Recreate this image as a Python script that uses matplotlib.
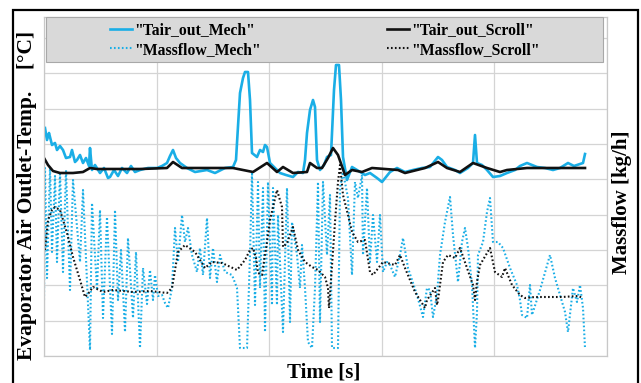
import matplotlib
matplotlib.use("Agg")
import matplotlib.pyplot as plt
import matplotlib.patches as patches
from matplotlib.ticker import MultipleLocator

# time [s] and values
t_tair_scroll = [0, 40, 90, 160, 290, 390, 460, 530, 960, 1230, 1290, 1380, 1890, 2090, 2230, 2330,
                 2390, 2490, 2630, 2660, 2730, 2780, 2840, 2890, 2940, 3010, 3080, 3180, 3280, 3540,
                 3610, 3810, 3940, 4030, 4160, 4290, 4430, 4560, 4630, 4830, 5410]
tair_scroll = [19.8, 19.1, 18.5, 18.3, 18.3, 18.4, 18.8, 18.7, 18.7, 18.8, 19.4, 18.8, 18.8, 18.4, 19.3, 18.4,
               18.9, 18.3, 18.4, 19.3, 18.8, 18.8, 19.8, 20.8, 20.1, 18.1, 18.6, 18.4, 18.8, 18.6,
               18.3, 18.8, 19.4, 18.8, 18.4, 19.3, 18.8, 18.4, 18.6, 18.8, 18.8]

t_tair_mech = [10, 30, 50, 60, 80, 110, 130, 160, 190, 220, 260, 280, 310, 330, 360, 390, 420, 450, 460,
               480, 510, 560, 600, 640, 660, 700, 740, 780, 830, 870, 910, 960, 1040, 1130, 1180, 1230,
               1260, 1290, 1320, 1360, 1430, 1510, 1630, 1710, 1810, 1890, 1920, 1930, 1960, 1990, 2010,
               2040, 2060, 2080, 2130, 2160, 2190, 2210, 2230, 2260, 2310, 2360, 2420, 2490, 2540, 2590,
               2610, 2630, 2660, 2690, 2710, 2730, 2760, 2800, 2830, 2870, 2900, 2920, 2950, 2970, 2990,
               3030, 3080, 3130, 3210, 3260, 3330, 3380, 3460, 3530, 3610, 3690, 3780, 3860, 3900, 3940,
               3980, 4030, 4110, 4160, 4240, 4290, 4310, 4330, 4380, 4430, 4490, 4560, 4630, 4710, 4760,
               4830, 4930, 5010, 5090, 5160, 5240, 5300, 5330, 5390, 5410]
tair_mech = [22.8, 21.6, 22.3, 21.9, 21.1, 21.3, 20.6, 21.0, 20.6, 19.8, 19.9, 20.6, 19.4, 19.6, 20.1, 19.3,
             19.8, 19.0, 20.8, 18.6, 19.1, 18.3, 18.8, 17.8, 17.9, 18.6, 18.0, 18.8, 18.3, 19.0, 18.4,
             18.6, 18.8, 18.8, 19.0, 19.3, 20.0, 20.6, 19.8, 19.3, 18.8, 18.4, 18.6, 18.3, 18.8, 18.9,
             19.6, 21.3, 26.3, 27.8, 28.4, 28.4, 25.6, 20.3, 19.9, 20.6, 20.4, 21.1, 20.9, 19.3, 18.8,
             18.3, 18.1, 17.9, 18.4, 18.3, 19.6, 22.3, 24.6, 25.6, 24.9, 19.6, 18.6, 19.1, 19.9, 20.1,
             26.6, 29.1, 29.1, 25.6, 19.9, 17.6, 18.9, 18.6, 18.1, 18.3, 17.8, 17.4, 18.4, 18.8, 18.4,
             18.6, 18.8, 18.9, 19.4, 19.9, 19.6, 18.9, 18.6, 18.3, 18.8, 19.3, 22.1, 19.3, 19.1, 18.6,
             17.9, 18.0, 18.3, 18.6, 19.0, 19.3, 18.9, 18.8, 18.6, 18.8, 19.3, 19.0, 19.1, 19.3, 20.2]

t_mf_mech = [0, 10, 30, 60, 80, 110, 130, 160, 190, 220, 260, 290, 360, 390, 460, 480, 530, 560, 590, 630,
             680, 710, 740, 770, 810, 840, 890, 920, 960, 990, 1030, 1060, 1090, 1110, 1140, 1180, 1210,
             1240, 1280, 1310, 1340, 1380, 1410, 1440, 1480, 1530, 1560, 1590, 1630, 1660, 1690, 1730,
             1760, 1810, 1880, 1930, 1960, 2030, 2060, 2080, 2110, 2140, 2160, 2190, 2210, 2240, 2280,
             2290, 2330, 2340, 2390, 2430, 2460, 2480, 2530, 2560, 2580, 2610, 2640, 2680, 2710, 2740,
             2760, 2790, 2830, 2860, 2880, 2940, 2960, 2990, 3040, 3080, 3110, 3140, 3180, 3190, 3230,
             3260, 3290, 3330, 3360, 3390, 3430, 3460, 3510, 3560, 3590, 3640, 3730, 3790, 3830, 3860,
             3890, 3930, 3960, 4010, 4060, 4090, 4140, 4180, 4210, 4240, 4280, 4310, 4330, 4340, 4390,
             4430, 4460, 4490, 4540, 4590, 4660, 4730, 4760, 4780, 4830, 4860, 4880, 4960, 5040, 5060,
             5110, 5210, 5240, 5290, 5330, 5360, 5390, 5410]
mf_mech = [28, 94, 39, 94, 52, 90, 47, 92, 42, 93, 33, 88, 47, 83, 3, 76.5, 33, 73, 19, 69.5,
           11, 73, 28, 53, 12, 59, 19, 52, 4, 44, 26, 43, 28, 40.5, 30, 30.5, 26.5,
           24, 34, 64, 47, 70.5, 57, 64, 50.5, 42, 54, 40.5, 69, 39, 54, 37,
           50.5, 42, 40.5, 34, 4, 4, 50.5, 92, 25.5, 87, 34, 84, 12, 87, 25.5,
           84, 25.5, 70.5, 12, 84, 17, 67, 50.5, 34, 55.5, 34, 7, 4, 34, 87,
           17, 87, 50.5, 80.5, 4, 4, 84, 92, 79, 40.5, 87, 79, 90.5, 50.5, 84,
           47, 70.5, 47, 70.5, 42, 47, 45.5, 39.5, 50.5, 59, 44, 30.5, 19.5, 34, 33,
           19.5, 30.5, 50.5, 67, 79.5, 60.5, 37, 57, 64, 54, 35.5, 4, 22, 50.5, 57,
           72, 79, 57, 57, 54, 44, 35.5, 28, 20.5, 19, 35.5, 20.5, 33, 47, 50.5,
           39, 22, 12, 34, 27, 35.5, 24, 4]

t_mf_scroll = [10, 40, 80, 110, 160, 230, 290, 360, 410, 440, 490, 590, 690, 890, 1060, 1230, 1280, 1310,
               1340, 1410, 1510, 1610, 1680, 1780, 1930, 2010, 2060, 2090, 2120, 2140, 2180, 2190, 2230,
               2260, 2330, 2380, 2390, 2430, 2490, 2540, 2610, 2680, 2740, 2810, 2840, 2850, 2870, 2910,
               2940, 2960, 2990, 3040, 3080, 3140, 3210, 3260, 3290, 3390, 3510, 3560, 3610, 3710, 3810,
               3830, 3910, 3930, 3940, 3990, 4040, 4110, 4160, 4230, 4290, 4310, 4330, 4360, 4460, 4510,
               4580, 4610, 4680, 4760, 4810, 4910, 5180, 5340, 5390]
mf_scroll = [53, 68, 73, 74.5, 73, 61.5, 49.5, 38, 29.5, 31, 34.5, 32, 33, 32, 32.5, 31.5, 34, 43,
             52, 55.5, 52, 44, 47, 46.5, 43, 48, 53, 54, 49, 41.5, 40.5, 44, 57,
             68, 83, 74.5, 54.5, 56.5, 64.5, 53, 47, 44.5, 43, 39.5, 34, 24, 38, 67,
             87, 95.5, 80.5, 70.5, 62, 57, 58, 42, 40.5, 47, 45.5, 50.5, 44, 32, 24,
             28, 34, 25.5, 28, 47, 50.5, 49, 54, 44, 35.5, 28, 37, 45.5, 54, 42,
             39.5, 44, 35.5, 30.5, 29, 29.5, 29.5, 30, 29]

blue = "#1aaee6"
serif = ["Liberation Serif", "DejaVu Serif"]

fig = plt.figure(figsize=(6.41, 3.83), dpi=100)
ax = fig.add_axes([44 / 641, 1 - 356 / 383, 563 / 641, 339 / 383])
ax2 = ax.twinx()

ax.plot(t_mf_mech, mf_mech, color=blue, lw=1.5, ls=(0, (0.8, 1.1)))
ax.plot(t_mf_scroll, mf_scroll, color="#111111", lw=1.5, ls=(0, (0.8, 1.1)))
ax2.plot(t_tair_mech, tair_mech, color=blue, lw=1.9)
ax2.plot(t_tair_scroll, tair_scroll, color="#111111", lw=1.9)

ax.set_xlim(0, 5630)
ax.set_ylim(0, 169.5)
ax2.set_ylim(0, 33.9)
ax.xaxis.set_major_locator(MultipleLocator(1126))
ax.yaxis.set_major_locator(MultipleLocator(17.665))
ax.grid(True, color="#d4d4d4", lw=0.9)
ax.set_axisbelow(True)
for a in (ax, ax2):
    a.tick_params(length=0, labelleft=False, labelright=False, labelbottom=False)
    for s in a.spines.values():
        s.set_color("#c8c8c8")
        s.set_linewidth(0.8)

# legend box
fig.patches.append(patches.Rectangle((46 / 641, 1 - 62 / 383), 557 / 641, 45 / 383,
                                     transform=fig.transFigure, facecolor="#d9d9d9",
                                     edgecolor="#a8a8a8", lw=0.8, zorder=5))
h = ax2.get_lines() + ax.get_lines()
leg = fig.legend([h[0], h[2], h[1], h[3]],
                 ['"Tair_out_Mech"', '"Massflow_Mech"', '"Tair_out_Scroll"', '"Massflow_Scroll"'],
                 ncol=2, loc="center", bbox_to_anchor=(325 / 641, 1 - 40 / 383), frameon=False,
                 prop={"family": serif, "weight": "bold", "size": 11.3}, handlelength=1.4,
                 handletextpad=0.15, columnspacing=8.0, labelspacing=0.25)
leg.set_zorder(6)

fig.text(27 / 641, 1 - 195 / 383, "Evaporator Air Outlet-Temp.    [°C]", rotation=90, ha="center",
         va="center", family=serif, weight="bold", fontsize=15.5)
fig.text(622 / 641, 1 - 202 / 383, "Massflow [kg/h]", rotation=90, ha="center", va="center",
         family=serif, weight="bold", fontsize=15)
fig.text(324 / 641, 1 - 372 / 383, "Time [s]", ha="center", va="center", family=serif,
         weight="bold", fontsize=15)

# outer frame
fig.patches.append(patches.Rectangle((13 / 641, -0.02), 625 / 641, 1 - 10 / 383 + 0.02,
                                     transform=fig.transFigure, fill=False, edgecolor="black",
                                     lw=1.6, zorder=10))

fig.savefig("out.png", dpi=100)
